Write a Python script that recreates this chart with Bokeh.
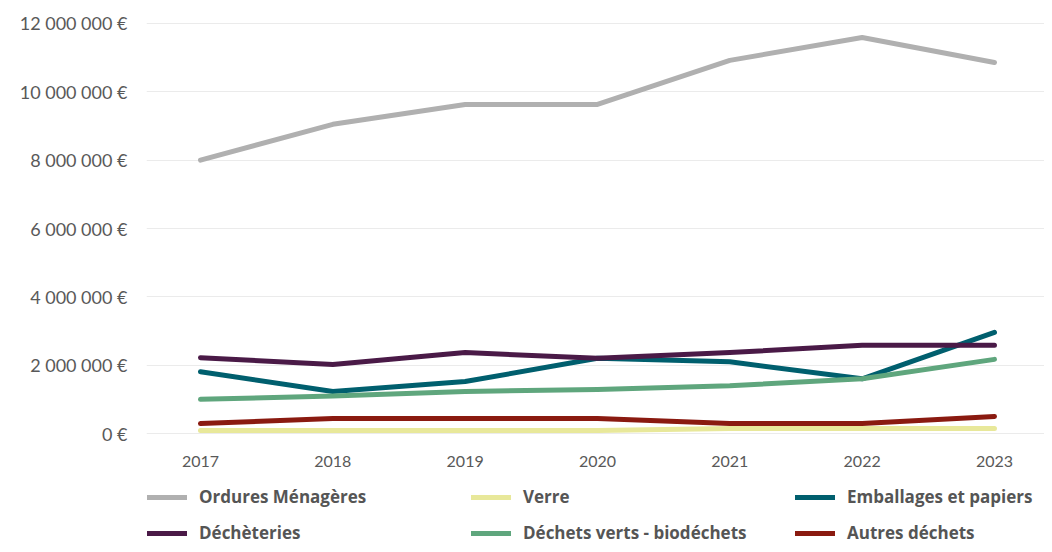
from bokeh.plotting import figure
from bokeh.models import Range1d, FixedTicker, CustomJSTickFormatter, Legend
from bokeh.layouts import column
from bokeh.embed import file_html
from bokeh.resources import INLINE

years = [2017, 2018, 2019, 2020, 2021, 2022, 2023]
ordures = [8000000, 9050000, 9630000, 9630000, 10920000, 11590000, 10860000]
verre = [90000, 90000, 90000, 90000, 150000, 150000, 150000]
emballages = [1810000, 1230000, 1520000, 2200000, 2100000, 1600000, 2960000]
decheteries = [2220000, 2020000, 2370000, 2200000, 2370000, 2580000, 2580000]
verts = [1000000, 1100000, 1230000, 1290000, 1400000, 1600000, 2170000]
autres = [290000, 440000, 440000, 440000, 290000, 290000, 500000]

series = [
    ("Ordures Ménagères", ordures, "#b0b0b0"),
    ("Verre", verre, "#e8e89a"),
    ("Emballages et papiers", emballages, "#005f6e"),
    ("Déchèteries", decheteries, "#4a1a47"),
    ("Déchets verts - biodéchets", verts, "#5fa67d"),
    ("Autres déchets", autres, "#8a1a10"),
]
y_ticks = [0, 2000000, 4000000, 6000000, 8000000, 10000000, 12000000]

p = figure(width=1044, height=476, output_backend="svg", toolbar_location=None,
           x_range=Range1d(2016.592, 2023.378), y_range=Range1d(-234000, 12234000),
           min_border_left=146, min_border_right=0, min_border_top=15,
           min_border_bottom=35)
p.outline_line_color = None
p.background_fill_color = "white"

for name, vals, col in series:
    p.line(years, vals, line_color=col, line_width=5, line_cap="round", line_join="round")

p.xgrid.grid_line_color = None
p.ygrid.grid_line_color = "#ebebeb"
p.ygrid.grid_line_width = 1

p.yaxis.ticker = FixedTicker(ticks=y_ticks)
p.yaxis.formatter = CustomJSTickFormatter(code="""
return tick.toFixed(0).replace(/\\B(?=(\\d{3})+(?!\\d))/g, ' ') + ' €';
""")
p.xaxis.ticker = FixedTicker(ticks=years)
for ax in (p.xaxis, p.yaxis):
    ax.axis_line_color = None
    ax.major_tick_line_color = None
    ax.minor_tick_line_color = None
    ax.major_tick_out = 0
    ax.major_tick_in = 0
    ax.minor_tick_out = 0
    ax.minor_tick_in = 0
    ax.major_label_text_font = "Lato"
    ax.major_label_text_color = "#595959"
p.yaxis.major_label_text_font_size = "18px"
p.xaxis.major_label_text_font_size = "16px"
p.yaxis.major_label_standoff = 19
p.xaxis.major_label_standoff = 14

# legend panel (frame aligned with the chart frame: left edge at 146)
q = figure(width=1044, height=68, output_backend="svg", toolbar_location=None,
           x_range=Range1d(0, 1), y_range=Range1d(0, 1),
           min_border_left=146, min_border_right=0, min_border_top=0, min_border_bottom=0)
q.axis.visible = False
q.grid.grid_line_color = None
q.outline_line_color = None
items = []
for name, vals, col in series:
    r = q.line([-5, -4], [-5, -4], line_color=col, line_width=5, line_cap="round")
    items.append((name, [r]))

legend = Legend(items=items, orientation="horizontal", ncols=3, location=(1, 0),
                label_text_font="Open Sans", label_text_font_style="bold",
                label_text_font_size="17px", label_text_color="#555555",
                glyph_width=40, glyph_height=16, label_height=16, label_width=259,
                label_standoff=12, spacing=13, padding=0, margin=0,
                border_line_color=None, background_fill_alpha=0)
q.add_layout(legend, "center")

layout = column(p, q, spacing=0)
open("out.html", "w").write(file_html(layout, INLINE))
